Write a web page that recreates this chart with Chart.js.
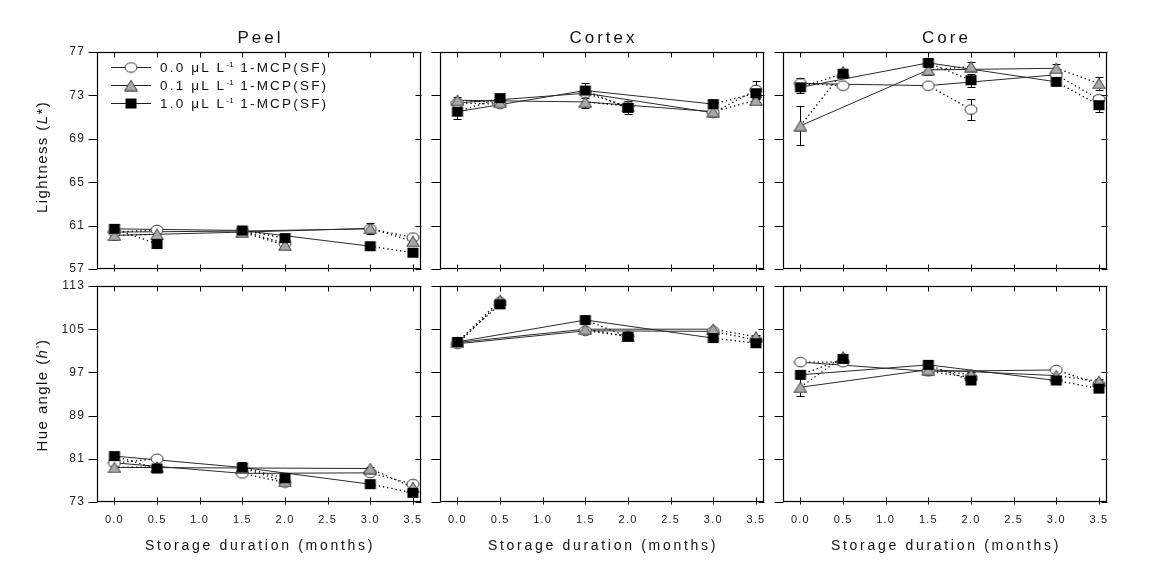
<!DOCTYPE html>
<html><head><meta charset="utf-8">
<script src="https://cdn.jsdelivr.net/npm/chart.js@4/dist/chart.umd.min.js"></script>
<style>
html,body{margin:0;padding:0;background:#fff;}
#wrap{position:relative;width:1165px;height:571px;overflow:hidden;font-family:'Liberation Sans',Arial,sans-serif;color:#111;}
canvas.pc{position:absolute;left:0;top:0;}
.ptitle{position:absolute;font-size:17px;letter-spacing:3px;transform:translate(-50%,-50%);white-space:nowrap;}
.xtitle{position:absolute;font-size:14px;letter-spacing:2.7px;transform:translate(-50%,-50%);white-space:nowrap;}
.ytitle{position:absolute;font-size:15px;letter-spacing:1.4px;transform:translate(-50%,-50%) rotate(-90deg);white-space:nowrap;}
.leg{position:absolute;left:109px;font-size:13.5px;letter-spacing:2.2px;white-space:nowrap;display:flex;align-items:center;height:16px;}
.leg canvas{display:block;}
.leg span{margin-left:5px;}
sup{font-size:8px;vertical-align:5px;letter-spacing:0.5px;}
</style></head>
<body><div id="wrap"></div>
<script>
// ---- data ----
const months = [0.0, 0.5, 1.5, 2.0, 3.0, 3.5];
const xTicks = [0, 0.5, 1, 1.5, 2, 2.5, 3, 3.5];
const yTicksL = [57, 61, 65, 69, 73, 77];
const yTicksH = [73, 81, 89, 97, 105, 113];

// Lightness (L*)
const peelL_00 = [60.4, 60.6, 60.5, 59.35, 60.7, 59.9];
const peelL_01 = [60.1, 60.2, 60.4, 59.2, 60.75, 59.55];
const peelL_10 = [60.7, 59.3, 60.55, 59.85, 59.1, 58.5];
const peelL_00e = [0.3, 0.2, 0.2, 0.2, 0.3, 0.2];
const peelL_01e = [0.45, 0.3, 0.3, 0.3, 0.5, 0.2];
const peelL_10e = [0.2, 0.2, 0.3, 0.2, 0.2, 0.2];

const cortexL_00 = [72.3, 72.2, 73.2, 72.0, 71.4, 73.5];
const cortexL_01 = [72.55, 72.35, 72.4, 72.0, 71.5, 72.55];
const cortexL_10 = [71.5, 72.75, 73.45, 71.85, 72.2, 73.2];
const cortexL_00e = [0.2, 0.2, 0.3, 0.3, 0.2, 0.8];
const cortexL_01e = [0.3, 0.2, 0.6, 0.2, 0.2, 0.2];
const cortexL_10e = [0.7, 0.3, 0.7, 0.6, 0.2, 0.3];

const coreL_00 = [74.1, 73.9, 73.9, 71.7, 74.9, 72.65];
const coreL_01 = [70.2, 75.2, 75.35, 75.65, 75.5, 74.1];
const coreL_10 = [73.75, 75.0, 76.0, 74.4, 74.25, 72.1];
const coreL_00e = [0.5, 0.2, 0.2, 1.0, 0.3, 0.4];
const coreL_01e = [1.8, 0.2, 0.5, 0.4, 0.4, 0.6];
const coreL_10e = [0.5, 0.2, 0.2, 0.6, 0.2, 0.6];

// Hue angle (h°)
const peelH_00 = [80.25, 81.0, 78.3, 76.6, 78.4, 76.3];
const peelH_01 = [79.4, 79.5, 79.3, 76.8, 79.2, 75.7];
const peelH_10 = [81.5, 79.2, 79.4, 77.4, 76.3, 74.7];
const peelH_00e = [0.3, 0.3, 0.4, 0.3, 0.3, 0.3];
const peelH_01e = [0.3, 0.3, 0.3, 0.3, 0.3, 0.3];
const peelH_10e = [0.3, 0.3, 1.0, 0.4, 0.3, 0.3];

const cortexH_00 = [102.3, 110.0, 104.7, 103.7, 104.6, 103.0];
const cortexH_01 = [102.55, 110.35, 105.0, 103.7, 105.0, 103.6];
const cortexH_10 = [102.65, 109.6, 106.7, 103.6, 103.35, 102.4];
const cortexH_00e = [0.3, 0.3, 0.3, 0.3, 0.3, 0.3];
const cortexH_01e = [0.3, 0.3, 0.3, 0.3, 0.3, 0.3];
const cortexH_10e = [0.3, 0.3, 0.3, 0.3, 0.3, 0.3];

const coreH_00 = [98.9, 98.9, 97.2, 96.1, 97.45, 94.8];
const coreH_01 = [94.25, 99.9, 97.5, 96.6, 96.4, 95.35];
const coreH_10 = [96.55, 99.5, 98.4, 95.5, 95.5, 94.0];
const coreH_00e = [0.4, 0.4, 0.4, 0.4, 0.4, 0.4];
const coreH_01e = [1.7, 0.4, 0.4, 0.4, 0.4, 0.4];
const coreH_10e = [0.4, 0.4, 0.4, 0.4, 0.4, 0.4];

const panelTitles = ['Peel', 'Cortex', 'Core'];
const legendLabels = ['0.0 μL L<sup>-1</sup> 1-MCP(SF)', '0.1 μL L<sup>-1</sup> 1-MCP(SF)', '1.0 μL L<sup>-1</sup> 1-MCP(SF)'];

// ---- layout ----
const W = 1165, H = 571;
const cols = [{l: 97, r: 421}, {l: 440, r: 764}, {l: 783, r: 1107}];
const rows = [{t: 52, b: 269, min: 57, max: 77, ticks: yTicksL}, {t: 286, b: 502, min: 73, max: 113, ticks: yTicksH}];
const YW = 60, XH = 30;

const panels = [
  {c: 0, r: 0, s: [peelL_00, peelL_01, peelL_10], e: [peelL_00e, peelL_01e, peelL_10e]},
  {c: 1, r: 0, s: [cortexL_00, cortexL_01, cortexL_10], e: [cortexL_00e, cortexL_01e, cortexL_10e]},
  {c: 2, r: 0, s: [coreL_00, coreL_01, coreL_10], e: [coreL_00e, coreL_01e, coreL_10e]},
  {c: 0, r: 1, s: [peelH_00, peelH_01, peelH_10], e: [peelH_00e, peelH_01e, peelH_10e]},
  {c: 1, r: 1, s: [cortexH_00, cortexH_01, cortexH_10], e: [cortexH_00e, cortexH_01e, cortexH_10e]},
  {c: 2, r: 1, s: [coreH_00, coreH_01, coreH_10], e: [coreH_00e, coreH_01e, coreH_10e]},
];

// ---- markers ----
function makeMarker(kind) {
  const c = document.createElement('canvas');
  c.width = 14; c.height = 12;
  const g = c.getContext('2d');
  g.lineWidth = 1;
  if (kind === 0) {
    g.beginPath(); g.ellipse(7, 6, 6, 4.8, 0, 0, Math.PI * 2);
    g.fillStyle = '#fff'; g.fill(); g.strokeStyle = '#333'; g.stroke();
  } else if (kind === 1) {
    g.beginPath(); g.moveTo(7, 0.8); g.lineTo(13.3, 11.2); g.lineTo(0.7, 11.2); g.closePath();
    g.fillStyle = '#a8a8a8'; g.fill(); g.strokeStyle = '#3a3a3a'; g.stroke();
  } else {
    g.fillStyle = '#000'; g.fillRect(1.5, 1, 11, 10);
  }
  return c;
}
const markers = [makeMarker(0), makeMarker(1), makeMarker(2)];

const wrap = document.getElementById('wrap');

function errPlugin(series, errors) {
  return {
    id: 'errbars',
    beforeDatasetsDraw(chart) {
      const ctx = chart.ctx, x = chart.scales.x, y = chart.scales.y;
      ctx.save(); ctx.letterSpacing = '0px';
      ctx.strokeStyle = '#000'; ctx.lineWidth = 1;
      series.forEach((vals, si) => {
        vals.forEach((v, i) => {
          const e = errors[si][i];
          if (!e) return;
          const px = Math.round(x.getPixelForValue(months[i])) + 0.5;
          const y1 = Math.round(y.getPixelForValue(v + e)) + 0.5;
          const y2 = Math.round(y.getPixelForValue(v - e)) + 0.5;
          ctx.beginPath();
          ctx.moveTo(px, y1); ctx.lineTo(px, y2);
          ctx.moveTo(px - 4, y1); ctx.lineTo(px + 4, y1);
          ctx.moveTo(px - 4, y2); ctx.lineTo(px + 4, y2);
          ctx.stroke();
        });
      });
      ctx.restore();
    }
  };
}
function framePlugin(yt) {
  return {
    id: 'frame',
    beforeDraw(chart) { chart.ctx.letterSpacing = '1.2px'; },
    afterDraw(chart) {
      const ctx = chart.ctx, a = chart.chartArea, x = chart.scales.x, y = chart.scales.y;
      ctx.save(); ctx.letterSpacing = '0px';
      ctx.strokeStyle = '#000'; ctx.lineWidth = 1.2;
      const L = a.left + 0.5, R = a.right - 0.5, T = a.top + 0.5, B = a.bottom - 0.5;
      ctx.strokeRect(L, T, R - L, B - T);
      ctx.lineWidth = 1;
      ctx.beginPath();
      yt.forEach(v => {
        const py = Math.round(y.getPixelForValue(v)) + 0.5;
        ctx.moveTo(L - 9, py); ctx.lineTo(L, py);
        ctx.moveTo(R - 5, py); ctx.lineTo(R + 1, py);
      });
      xTicks.forEach(v => {
        const px = Math.round(x.getPixelForValue(v)) + 0.5;
        ctx.moveTo(px, T); ctx.lineTo(px, T + 5);
        ctx.moveTo(px, B - 4); ctx.lineTo(px, B + 3);
      });
      ctx.stroke();
      ctx.restore();
    },
    beforeDatasetsDraw(chart) { chart.ctx.letterSpacing = '0px'; }
  };
}

panels.forEach(p => {
  const col = cols[p.c], row = rows[p.r];
  const cv = document.createElement('canvas');
  cv.className = 'pc'; cv.width = W; cv.height = H;
  wrap.appendChild(cv);
  const datasets = [];
  p.s.forEach((vals, si) => {
    // solid line through 0, 1.5, 3.0
    datasets.push({
      data: [0, 2, 4].map(i => ({x: months[i], y: vals[i]})),
      borderColor: '#2a2a2a', borderWidth: 1, pointRadius: 0, order: 20, clip: false
    });
    // dotted segments
    const d = [];
    [[0, 1], [2, 3], [4, 5]].forEach(([a, b], k) => {
      d.push({x: months[a], y: vals[a]}, {x: months[b], y: vals[b]});
      if (k < 2) d.push({x: (months[b] + months[b + 1]) / 2, y: null});
    });
    datasets.push({
      data: d, borderColor: '#000', borderWidth: 1.3, borderDash: [1.3, 3],
      pointRadius: 0, spanGaps: false, order: 15, clip: false
    });
  });
  p.s.forEach((vals, si) => {
    datasets.push({
      data: vals.map((v, i) => ({x: months[i], y: v})),
      showLine: false, pointStyle: markers[si], pointRadius: 6,
      order: 3 - si, clip: false
    });
  });
  new Chart(cv, {
    type: 'line',
    data: {datasets},
    options: {
      responsive: false, animation: false, events: [],
      layout: {padding: {left: col.l - YW, right: W - col.r, top: row.t, bottom: H - row.b - XH}},
      plugins: {legend: {display: false}, tooltip: {enabled: false}},
      scales: {
        x: {
          type: 'linear', min: -0.205, max: 3.595,
          afterBuildTicks: s => { s.ticks = xTicks.map(v => ({value: v})); },
          afterFit: s => { s.height = XH; },
          grid: {display: false, drawTicks: false}, border: {display: false},
          ticks: {
            display: p.r === 1, padding: 11, maxRotation: 0, autoSkip: false,
            color: '#222', font: {family: "'Liberation Sans Narrow', 'Liberation Sans', Arial", size: 11},
            callback: v => Number(v).toFixed(1)
          }
        },
        y: {
          type: 'linear', min: row.min, max: row.max,
          afterBuildTicks: s => { s.ticks = row.ticks.map(v => ({value: v})); },
          afterFit: s => { s.width = YW; },
          grid: {display: false, drawTicks: false}, border: {display: false},
          ticks: {
            display: p.c === 0, padding: 12, autoSkip: false,
            color: '#222', font: {family: "'Liberation Sans', Arial", size: 12},
            callback: v => String(v)
          }
        }
      }
    },
    plugins: [errPlugin(p.s, p.e), framePlugin(row.ticks)]
  });
});

// ---- text ----
function addDiv(cls, html, x, y) {
  const d = document.createElement('div');
  d.className = cls; d.innerHTML = html;
  d.style.left = x + 'px'; d.style.top = y + 'px';
  wrap.appendChild(d);
  return d;
}
cols.forEach((col, i) => {
  const cx = (col.l + col.r) / 2;
  addDiv('ptitle', panelTitles[i], cx + 1.5, 38);
  addDiv('xtitle', 'Storage duration (months)', cx + 1, 545);
});
addDiv('ytitle', 'Lightness (<i>L</i>*)', 41, 157);
addDiv('ytitle', 'Hue angle (<i>h</i><sup>°</sup>)', 41, 395);

// legend
[67, 85, 103].forEach((cy, i) => {
  const d = document.createElement('div');
  d.className = 'leg'; d.style.top = (cy - 8) + 'px';
  const c = document.createElement('canvas');
  c.width = 46; c.height = 16;
  const g = c.getContext('2d');
  g.strokeStyle = '#222'; g.lineWidth = 1;
  g.beginPath(); g.moveTo(2, 8.5); g.lineTo(42, 8.5); g.stroke();
  g.drawImage(markers[i], 22 - 7, 8.5 - 6);
  d.appendChild(c);
  const s = document.createElement('span');
  s.innerHTML = legendLabels[i];
  d.appendChild(s);
  wrap.appendChild(d);
});
</script>
</body></html>
